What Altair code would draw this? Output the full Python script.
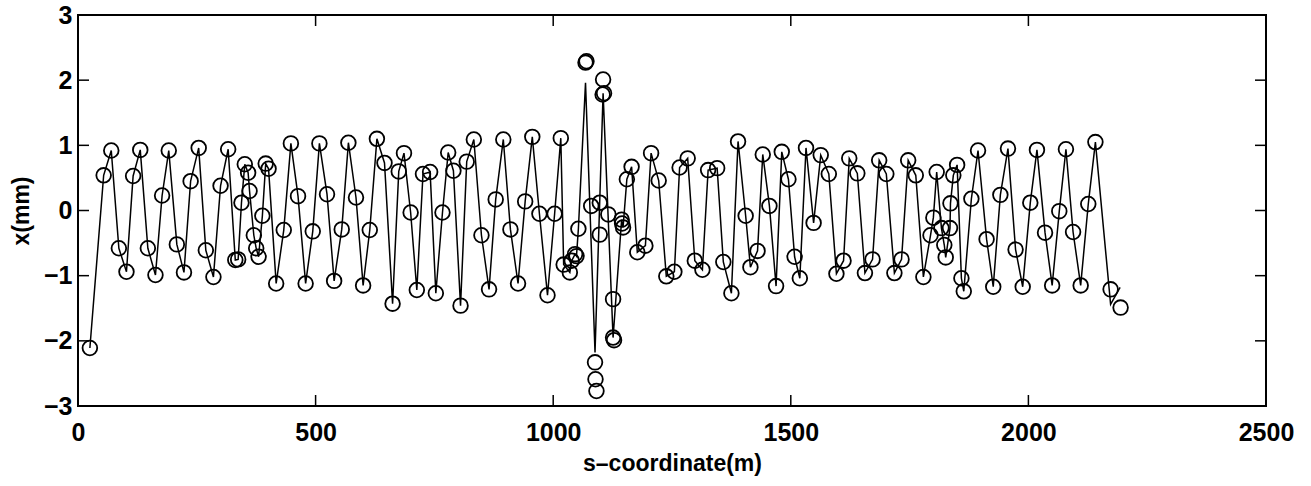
import altair as alt
import pandas as pd

# BPM readings (circles): s-coordinate (m) and horizontal orbit x (mm)
s_bpm = [25, 54, 70, 86, 102, 116, 131, 147, 163, 177, 191, 208, 223, 237, 254, 269, 285, 300, 316,
         331, 337, 344, 351, 358, 361, 370, 375, 380, 388, 395, 401, 417, 433, 448, 463, 479, 494,
         508, 524, 539, 555, 569, 585, 600, 614, 629, 645, 662, 675, 686, 700, 713, 726, 741, 753,
         767, 779, 790, 805, 818, 833, 849, 865, 879, 895, 910, 926, 941, 956, 971, 988, 1003,
         1016, 1022, 1035, 1039, 1046, 1049, 1053, 1068, 1070, 1080, 1088, 1089, 1091, 1098, 1098,
         1105, 1104, 1107, 1116, 1126, 1126, 1128, 1144, 1145, 1147, 1155, 1165, 1177, 1194, 1206,
         1222, 1238, 1255, 1266, 1283, 1298, 1314, 1326, 1345, 1358, 1375, 1389, 1405, 1415, 1430,
         1441, 1455, 1469, 1481, 1495, 1508, 1519, 1532, 1548, 1563, 1580, 1596, 1611, 1623, 1640,
         1656, 1672, 1686, 1701, 1718, 1733, 1747, 1763, 1779, 1794, 1800, 1807, 1817, 1823, 1826,
         1835, 1836, 1842, 1850, 1859, 1864, 1880, 1894, 1912, 1926, 1941, 1957, 1973, 1988, 2004,
         2018, 2035, 2050, 2065, 2079, 2094, 2110, 2126, 2141, 2173, 2194]
x_bpm = [-2.11, 0.54, 0.92, -0.58, -0.94, 0.53, 0.93, -0.58, -0.99, 0.23, 0.92, -0.52, -0.95, 0.45,
         0.96, -0.61, -1.02, 0.38, 0.94,
         -0.76, -0.75, 0.12, 0.71, 0.58, 0.30, -0.38, -0.58, -0.71, -0.08, 0.72, 0.64, -1.12, -0.30,
         1.03, 0.22, -1.12, -0.32,
         1.03, 0.25, -1.08, -0.29, 1.04, 0.20, -1.15, -0.30, 1.10, 0.73, -1.43, 0.60, 0.88, -0.03,
         -1.22, 0.56, 0.59, -1.27,
         -0.03, 0.89, 0.61, -1.46, 0.75, 1.09, -0.38, -1.21, 0.17, 1.09, -0.29, -1.12, 0.14, 1.13,
         -0.05, -1.30, -0.05,
         1.11, -0.83, -0.95, -0.77, -0.67, -0.70, -0.28, 2.27, 2.29, 0.07, -2.33, -2.59, -2.77,
         0.12, -0.37,
         2.01, 1.78, 1.80, -0.06, -1.36, -1.95, -1.99, -0.14, -0.20, -0.26, 0.48, 0.67, -0.64,
         -0.54, 0.88,
         0.46, -1.01, -0.94, 0.66, 0.80, -0.77, -0.91, 0.62, 0.65, -0.79, -1.27, 1.06, -0.08,
         -0.87, -0.62,
         0.86, 0.07, -1.16, 0.90, 0.48, -0.71, -1.04, 0.96, -0.19, 0.85, 0.56, -0.97, -0.77, 0.80,
         0.57,
         -0.96, -0.75, 0.77, 0.56, -0.96, -0.75, 0.77, 0.54, -1.02, -0.38, -0.11, 0.59, -0.27,
         -0.53, -0.72,
         -0.27, 0.11, 0.54, 0.70, -1.04, -1.24, 0.18, 0.92, -0.44, -1.17, 0.24, 0.95, -0.60,
         -1.17, 0.12,
         0.93, -0.34, -1.15, -0.01, 0.94, -0.33, -1.15, 0.10, 1.05, -1.21, -1.49]

# Line vertices that differ from the circles (around the 1100 m bump and at the end)
s_line_extra = [1068, 1088, 1105, 1126, 2173, 2193]
x_line_extra = [1.96, -2.18, 1.80, -1.95, -1.44, -1.18]

x_ticks = [0, 500, 1000, 1500, 2000, 2500]
y_ticks = [-3, -2, -1, 0, 1, 2, 3]

W, H = 1188, 391
TICK = 11
FONT = "Liberation Sans"

pts = pd.DataFrame({"s": s_bpm, "x": x_bpm})
keep = [(s < 1060 or 1135 < s < 2160) for s in s_bpm]
line_df = pd.concat([
    pts[keep],
    pd.DataFrame({"s": s_line_extra, "x": x_line_extra}),
]).sort_values("s", kind="stable").reset_index(drop=True)
line_df["order"] = range(len(line_df))

xscale = alt.Scale(domain=[0, 2500], nice=False, zero=False)
yscale = alt.Scale(domain=[-3, 3], nice=False, zero=False)

xaxis = alt.Axis(values=x_ticks, format="d", ticks=False, tickSize=0, domain=False, grid=False,
                 labelFont=FONT, labelFontSize=25, labelFontWeight="bold", labelColor="black",
                 labelPadding=14, labelFlush=False,
                 title="s\u2013coordinate(m)", titleFont=FONT, titleFontSize=23,
                 titleFontWeight="bold", titleColor="black", titlePadding=7)
yaxis = alt.Axis(values=y_ticks, format="d", ticks=False, tickSize=0, domain=False, grid=False,
                 labelFont=FONT, labelFontSize=25, labelFontWeight="bold", labelColor="black",
                 labelPadding=6, labelFlush=False,
                 title="x(mm)", titleFont=FONT, titleFontSize=23, titleFontWeight="bold",
                 titleColor="black", titlePadding=10)

X = alt.X("s:Q", scale=xscale, axis=xaxis)
Y = alt.Y("x:Q", scale=yscale, axis=yaxis)

line = alt.Chart(line_df).mark_line(color="black", strokeWidth=1.5).encode(
    x=X, y=Y, order="order:Q",
)

circles = alt.Chart(pts).mark_point(shape="circle", filled=False, color="black",
                                     size=215, strokeWidth=1.8, opacity=1).encode(x=X, y=Y)

xt = pd.DataFrame({"s": x_ticks})
yt = pd.DataFrame({"x": y_ticks})

xt_bottom = alt.Chart(xt).mark_rule(color="black", strokeWidth=1.5).encode(
    x=X, y=alt.value(H), y2=alt.value(H - TICK))
xt_top = alt.Chart(xt).mark_rule(color="black", strokeWidth=1.5).encode(
    x=X, y=alt.value(0), y2=alt.value(TICK))
yt_left = alt.Chart(yt).mark_rule(color="black", strokeWidth=1.5).encode(
    y=Y, x=alt.value(0), x2=alt.value(TICK))
yt_right = alt.Chart(yt).mark_rule(color="black", strokeWidth=1.5).encode(
    y=Y, x=alt.value(W), x2=alt.value(W - TICK))

chart = alt.layer(line, circles, xt_bottom, xt_top, yt_left, yt_right).properties(
    width=W, height=H,
    autosize=alt.AutoSizeParams(type="none"),
    padding={"left": 78, "top": 15, "right": 45, "bottom": 80},
    background="white",
).configure_view(stroke="black", strokeWidth=2)

chart.save("out.html", embed_options={"renderer": "svg", "actions": False})
